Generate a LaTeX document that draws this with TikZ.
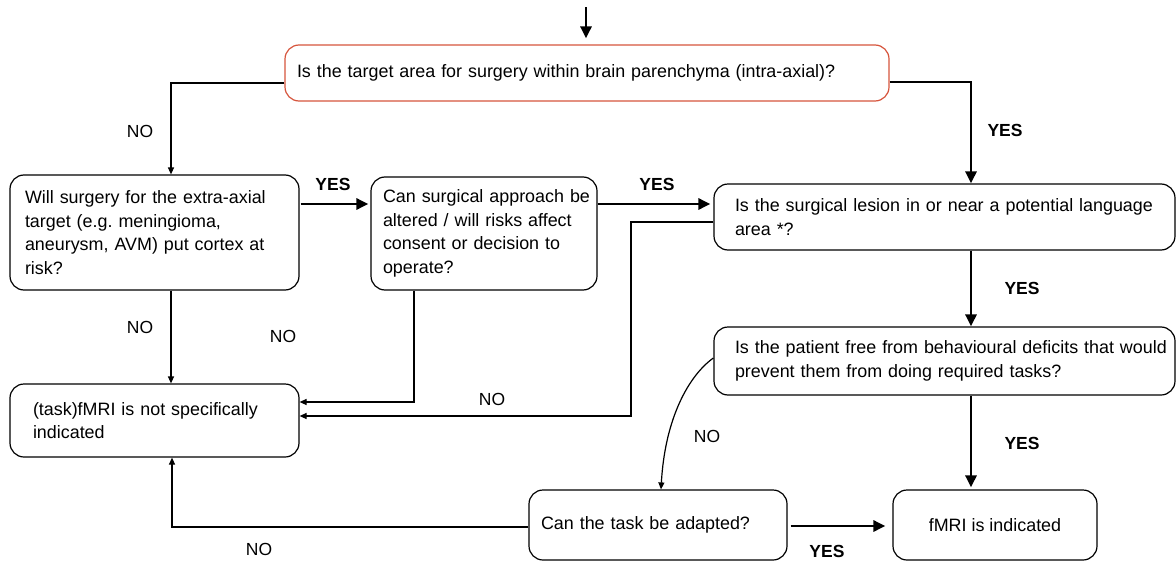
\documentclass[tikz,border=0pt]{standalone}
\usepackage{fontspec}
\setmainfont{Liberation Sans}
\usetikzlibrary{arrows.meta,calc}
\definecolor{boxred}{RGB}{214,84,60}
\begin{document}
\begin{tikzpicture}[x=1pt,y=-1pt,
  box/.style={draw,rounded corners=14pt,line width=1.2pt,inner sep=0pt,align=left,
    font=\fontsize{17.9}{23.5}\selectfont\frenchspacing},
  lab/.style={font=\fontsize{17.5}{20}\selectfont},
  ylab/.style={font=\fontsize{17.5}{20}\selectfont\bfseries},
  thinarr/.style={line width=1.2pt,-{Triangle[length=7pt,width=6pt]}},
  thickarr/.style={line width=2.8pt,-{Triangle[length=12pt,width=11pt]}}]
\useasboundingbox (0,0) rectangle (1176,562);
% boxes
\node[box,draw=boxred,minimum width=604pt,minimum height=56pt,text width=580pt] (top) at (587,73)
  {\mbox{Is the target area for surgery within brain parenchyma (intra-axial)?}};
\node[box,minimum width=289pt,minimum height=115pt,text width=259pt] (will) at (154.5,232.5)
  {\mbox{Will surgery for the extra-axial}\\\mbox{target (e.g. meningioma,}\\\mbox{aneurysm, AVM) put cortex at}\\risk?};
\node[box,minimum width=226pt,minimum height=113pt,text width=202pt] (can) at (484,233.5)
  {\mbox{Can surgical approach be}\\\mbox{altered / will risks affect}\\\mbox{consent or decision to}\\operate?};
\node[box,minimum width=461pt,minimum height=66pt,text width=419pt] (lang) at (944.5,217)
  {\mbox{Is the surgical lesion in or near a potential language}\\area *?};
\node[box,minimum width=461pt,minimum height=68pt,text width=419pt] (patient) at (944.5,361)
  {\mbox{Is the patient free from behavioural deficits that would}\\\mbox{prevent them from doing required tasks?}};
\node[box,minimum width=289pt,minimum height=73pt,text width=243pt] (task) at (154.5,420.5)
  {\mbox{(task)fMRI is not specifically}\\indicated};
\node[box,minimum width=258pt,minimum height=70pt,text width=234pt] (adapt) at (658,525)
  {\mbox{Can the task be adapted?}};
\node[box,align=center,minimum width=204pt,minimum height=70pt] (fmri) at (995,525)
  {fMRI is indicated};
% helper coordinates
\coordinate (start) at (586,7);
\coordinate (cx171) at (171,0);
\coordinate (cx172) at (172,0);
\coordinate (cx414) at (414,0);
\coordinate (cx631) at (631,0);
\coordinate (cx661) at (661,0);
\coordinate (cx971) at (971,0);
\coordinate (ry204) at (0,204);
\coordinate (ry222) at (0,222);
\coordinate (ry358) at (0,358);
\coordinate (ry402) at (0,402);
\coordinate (ry416) at (0,416);
\coordinate (ry526) at (0,526);
% connectors
\draw[thickarr,shorten >=6pt] (start) -- (start |- top.north);
\draw[thinarr] ([yshift=-10pt]top.west) -| (will.north -| cx171);
\draw[thickarr] ([yshift=-9pt]top.east) -| (lang.north -| cx971);
\draw[thickarr,shorten <=1pt,shorten >=2pt] (will.east |- ry204) -- (can.west |- ry204);
\draw[thickarr,shorten >=3pt] (can.east |- ry204) -- (lang.west |- ry204);
\draw[thickarr] (lang.south -| cx971) -- (patient.north -| cx971);
\draw[thickarr,shorten >=2pt] (patient.south -| cx971) -- (fmri.north -| cx971);
\draw[thinarr] (will.south -| cx171) -- (task.north -| cx171);
\draw[thinarr] (can.south -| cx414) |- (task.east |- ry402);
\draw[thinarr] (lang.west |- ry222) -- (cx631 |- ry222) -- (cx631 |- ry416) -- (task.east |- ry416);
\draw[thinarr] (patient.west |- ry358) .. controls +(-24,17) and +(4,-72) .. (adapt.north -| cx661);
\draw[thinarr] ([yshift=-2pt]adapt.west) -| (task.south -| cx172);
\draw[thickarr,shorten >=7pt] ([xshift=3pt]adapt.east |- ry526) -- (fmri.west |- ry526);
% labels
\node[lab] (no1) at (140,131) {NO};
\node[ylab] (yes1) at (1005,130) {YES};
\node[ylab] (yes2) at (333,184) {YES};
\node[ylab] (yes3) at (657,184) {YES};
\node[ylab] (yes4) at (1022,288) {YES};
\node[lab] (no2) at (140,327) {NO};
\node[lab] (no3) at (283,336) {NO};
\node[lab] (no4) at (492,399) {NO};
\node[lab] (no5) at (707,436) {NO};
\node[ylab] (yes5) at (1022,443) {YES};
\node[lab] (no6) at (259,549) {NO};
\node[ylab] (yes6) at (827,551) {YES};
\end{tikzpicture}
\end{document}
